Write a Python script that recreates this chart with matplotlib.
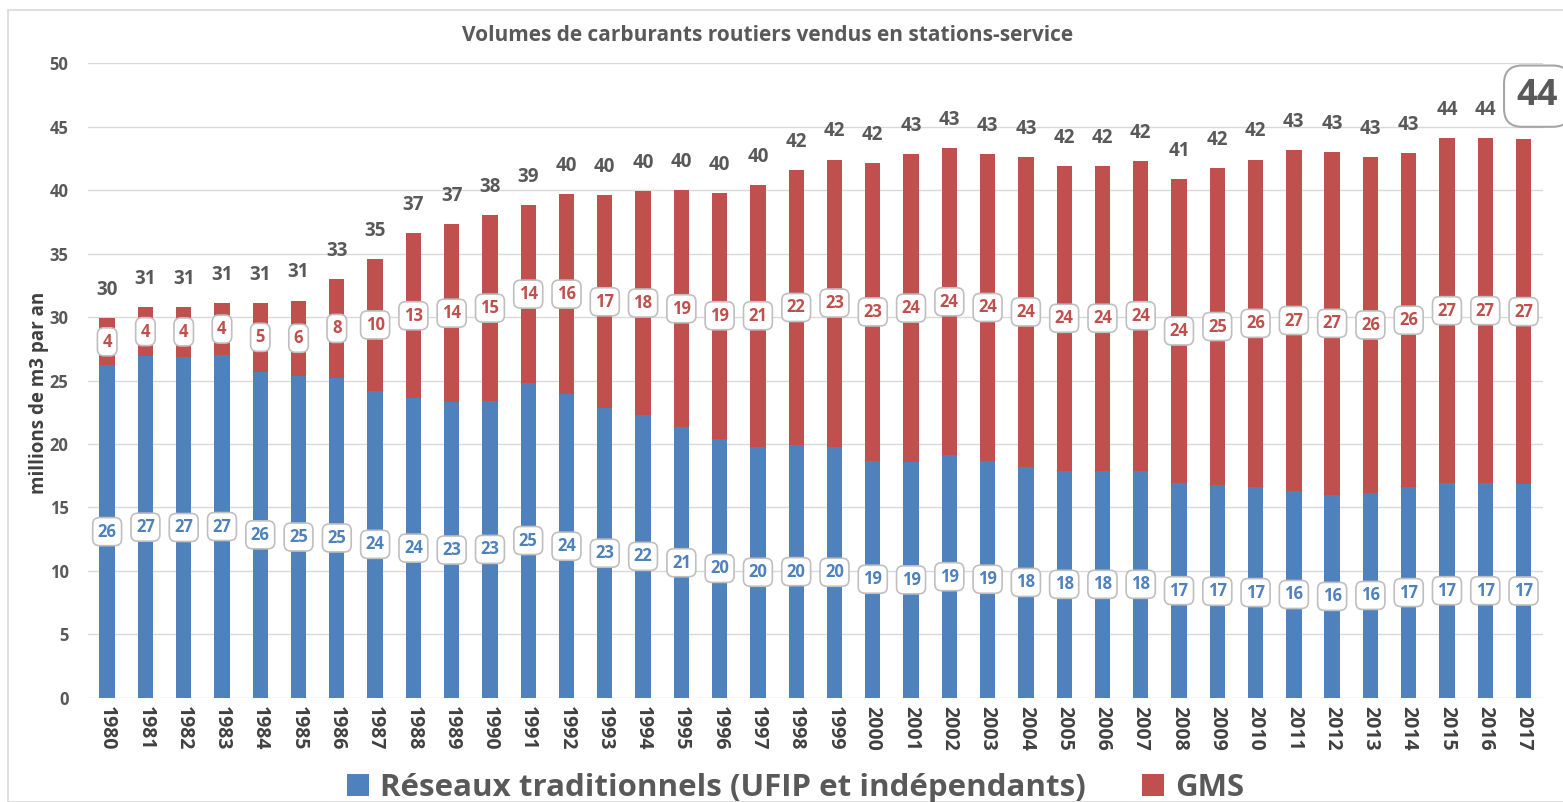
import matplotlib.pyplot as plt
import matplotlib.patches as mpatches
import numpy as np

plt.rcParams['font.family'] = ['Open Sans', 'DejaVu Sans']

years = list(range(1980, 2018))
# Réseaux traditionnels (millions de m3)
reseaux = [26.2, 26.9, 26.85, 27.0, 25.7, 25.35, 25.2, 24.2, 23.6, 23.3,
           23.4, 24.8, 23.9, 22.8, 22.3, 21.3, 20.4, 19.8, 19.9, 19.8,
           18.7, 18.6, 19.1, 18.7, 18.2, 17.9, 17.9, 17.9, 16.9, 16.8,
           16.6, 16.3, 16.0, 16.15, 16.6, 16.9, 16.9, 16.85]
# GMS (millions de m3)
gms = [3.7, 3.9, 3.95, 4.1, 5.4, 5.95, 7.8, 10.35, 13.0, 14.0,
       14.6, 14.0, 15.8, 16.8, 17.6, 18.7, 19.4, 20.6, 21.7, 22.6,
       23.4, 24.2, 24.2, 24.1, 24.4, 24.0, 24.0, 24.4, 24.0, 24.9,
       25.8, 26.85, 27.0, 26.45, 26.3, 27.2, 27.2, 27.15]

blue = '#4F81BD'
red = '#C0504D'
grey_txt = '#595959'

reseaux = np.array(reseaux)
gms = np.array(gms)
total = reseaux + gms
x = np.arange(len(years))

fig = plt.figure(figsize=(15.63, 8.02), dpi=100)
ax = fig.add_axes([0.0563, 0.1297, 0.9307, 0.7917])

b1 = ax.bar(x, reseaux, width=0.4, color=blue, label='Réseaux traditionnels (UFIP et indépendants)', zorder=2)
b2 = ax.bar(x, gms, width=0.4, bottom=reseaux, color=red, label='GMS', zorder=2)

box = dict(boxstyle='round,pad=0.3,rounding_size=0.4', fc='white', ec='#BFBFBF', lw=1.2)
for xi, r, g, t in zip(x, reseaux, gms, total):
    ax.text(xi, r / 2, f'{r:.0f}', ha='center', va='center', fontsize=12,
            fontweight='bold', color=blue, bbox=box, zorder=3)
    ax.text(xi, r + g / 2, f'{g:.0f}', ha='center', va='center', fontsize=12,
            fontweight='bold', color=red, bbox=box, zorder=3)

for xi, t in zip(x[:-1], total[:-1]):
    ax.annotate(f'{t:.0f}', (xi, t), xytext=(0, 13), textcoords='offset points',
                ha='center', va='bottom', fontsize=13.5, fontweight='bold', color=grey_txt)
# last total highlighted
ax.annotate(f'{total[-1]:.0f}', (x[-1], total[-1]), xytext=(10, 31), textcoords='offset points',
            ha='center', va='center', fontsize=26, fontweight='bold', color=grey_txt,
            bbox=dict(boxstyle='round,pad=0.35,rounding_size=0.5', fc='white', ec='#A6A6A6', lw=1.5),
            annotation_clip=False, zorder=4)

ax.set_xlim(-0.5, len(years) - 0.5)
ax.set_ylim(0, 50)
ax.set_yticks(range(0, 51, 5))
ax.set_xticks(x)
ax.set_xticklabels([str(y) for y in years], rotation=270, fontsize=14, fontweight='bold', color='#404040')
ax.tick_params(axis='y', labelsize=12, labelcolor=grey_txt, length=0, pad=14)
ax.tick_params(axis='x', length=0, pad=6)
for lbl in ax.get_yticklabels():
    lbl.set_fontweight('bold')
ax.grid(axis='y', color='#D9D9D9', lw=1, zorder=0)
ax.set_axisbelow(True)
for s in ax.spines.values():
    s.set_visible(False)

fig.text(0.025, 0.51, 'millions de m3 par an', rotation=90, ha='center', va='center',
         fontsize=13.5, fontweight='bold', color='#404040')
fig.text(0.491, 0.956, 'Volumes de carburants routiers vendus en stations-service',
         ha='center', va='center', fontsize=15, fontweight='bold', color=grey_txt)

fig.legend(handles=[b1, b2], loc='lower center', bbox_to_anchor=(0.509, -0.036), ncol=2,
           frameon=False, prop={'size': 22.5, 'weight': 'bold'}, handlelength=0.7,
           handleheight=0.7, handletextpad=0.35, columnspacing=1.8, labelcolor=grey_txt)

fig.patches.append(mpatches.Rectangle((0.005, 0.0), 1.2, 0.988, transform=fig.transFigure,
                                      fill=False, ec='#D9D9D9', lw=1.2))

fig.savefig('out.png', dpi=100)
